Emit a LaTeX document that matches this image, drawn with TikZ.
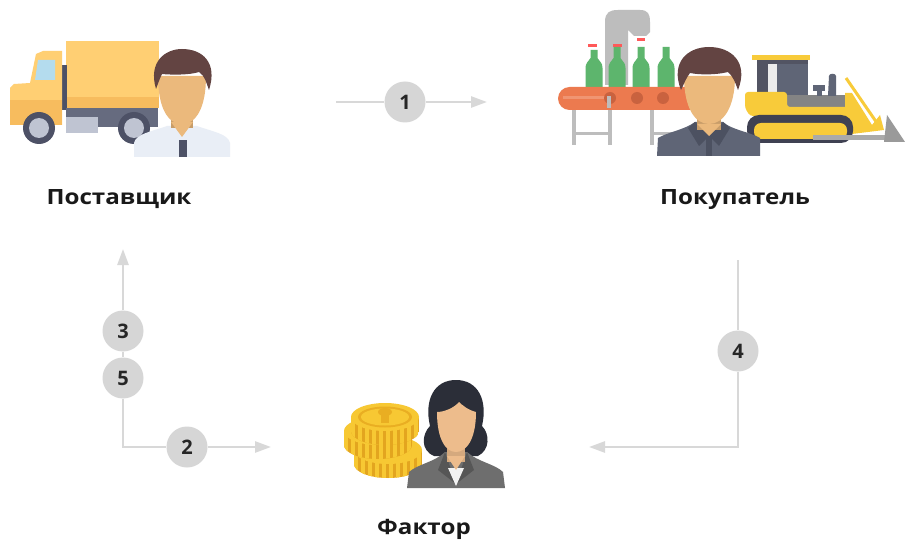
\documentclass[tikz,border=0pt]{standalone}
\usepackage{fontspec}
\setmainfont{Open Sans}
\newfontfamily\labelfont[FakeStretch=1.15]{Open Sans}
\usetikzlibrary{arrows.meta}
\definecolor{linegray}{HTML}{D8D8D8}
\definecolor{discgray}{HTML}{D6D6D6}
\definecolor{truckyel}{HTML}{FFCF73}
\definecolor{truckdk}{HTML}{F7BC5E}
\definecolor{steel}{HTML}{666B7F}
\definecolor{tyre}{HTML}{4D5166}
\definecolor{hub}{HTML}{BFC4D2}
\definecolor{windowb}{HTML}{B4DCEE}
\definecolor{hairbrown}{HTML}{634442}
\definecolor{skin}{HTML}{EBB97C}
\definecolor{skinb}{HTML}{EDBC8C}
\definecolor{shirt}{HTML}{E9EEF6}
\definecolor{jacket}{HTML}{5F6576}
\definecolor{jacketdk}{HTML}{4C5161}
\definecolor{machine}{HTML}{BDBDBD}
\definecolor{bottle}{HTML}{5DB56D}
\definecolor{belt}{HTML}{EC7A4F}
\definecolor{beltdk}{HTML}{C9623F}
\definecolor{dozer}{HTML}{F8CB3A}
\definecolor{dozerdk}{HTML}{3F4152}
\definecolor{coin}{HTML}{F7C833}
\definecolor{coindk}{HTML}{E3A51F}
\definecolor{coinlt}{HTML}{E9AE22}
\definecolor{hairblack}{HTML}{2B2E38}
\definecolor{coat}{HTML}{6E6E6E}
\definecolor{coatdk}{HTML}{565656}
\tikzset{
  disc/.style={circle,fill=discgray,minimum size=41pt,inner sep=0pt,font=\fontsize{20}{20}\selectfont\bfseries,text=black!85},
  namelabel/.style={font=\labelfont\fontsize{21}{22}\selectfont\bfseries,text=black!90,inner sep=0pt,anchor=base},
  conn/.style={draw=linegray,line width=2.6pt},
  arr/.style={conn,-{Triangle[length=16pt,width=11pt,fill=linegray]}},
}
\begin{document}
\begin{tikzpicture}[x=1pt,y=-1pt]
\useasboundingbox (0,0) rectangle (905,540);
\fill[white] (0,0) rectangle (905,540);

% ---------- truck ----------
\fill[truckyel] (66,41) rectangle (159,100);
\fill[truckdk] (66,97) rectangle (159,108);
\fill[tyre] (62,65) rectangle (67,110);
\fill[steel] (66,108) rectangle (158,127);
\fill[hub] (66,117) rectangle (98,133);
\fill[truckyel] (10,125) -- (10,88) -- (14,84) -- (30,83) -- (36,54) -- (43,51) -- (62,51) -- (62,125) -- cycle;
\fill[truckdk] (10,100) rectangle (62,125);
\fill[windowb] (38,60) -- (55,60) -- (55,80) -- (35,80) -- cycle;
\fill[tyre] (39,128) circle (16);
\fill[hub] (39,128) circle (10);
\fill[tyre] (134,128) circle (16);
\fill[hub] (134,128) circle (10);
% ---------- supplier ----------
\fill[shirt] (134,157) -- (134,143) .. controls (136,134) and (150,132) .. (167,126) -- (197,126) .. controls (214,132) and (228,134) .. (230,143) -- (230,157) -- cycle;
\fill[skin!85!black] (171,110) rectangle (193,128);
\fill[skin] (171,122) -- (182,137) -- (193,122) -- cycle;
\fill[skin] (158,76) .. controls (158,108) and (168,124) .. (182,124) .. controls (196,124) and (206,108) .. (206,76) -- cycle;
\fill[hairbrown] (156,89) .. controls (148,62) and (165,49) .. (182,49) .. controls (202,49) and (218,62) .. (209,90) .. controls (206,82) and (205,76) .. (199,72) .. controls (190,75) and (172,75) .. (162,74) .. controls (159,80) and (158,84) .. (156,89) -- cycle;
\fill[tyre] (179,140) rectangle (187,157);

% ---------- bottling line ----------
\fill[machine] (605,22) .. controls (605,12) and (610,10) .. (618,10) -- (640,10) .. controls (648,10) and (650,14) .. (650,22) -- (650,32) -- (646,36) -- (634,36) -- (628,30) -- (628,85) -- (605,85) -- cycle;
\fill[red!65!white] (588,44) rectangle (597,47);
\fill[red!65!white] (613,44) rectangle (622,47);
\fill[red!65!white] (637,38) rectangle (645,41);
\foreach \bx/\by in {594/50,617/47,641/47,666/47}{
  \fill[bottle] (\bx-3.5,\by) -- (\bx+3.5,\by) -- (\bx+3.5,58) .. controls (\bx+6,62) and (\bx+8.5,63) .. (\bx+8.5,68) -- (\bx+8.5,87) -- (\bx-8.5,87) -- (\bx-8.5,68) .. controls (\bx-8.5,63) and (\bx-6,62) .. (\bx-3.5,58) -- cycle;
}
\foreach \lx in {572,608,650}{ \fill[machine] (\lx,106) rectangle (\lx+4,145); }
\fill[machine] (572,132) rectangle (612,135);
\fill[machine] (650,132) rectangle (690,135);
\fill[belt,rounded corners=11.5pt] (558,87) rectangle (705,110);
\fill[belt!80!white] (563,96) rectangle (606,99);
\foreach \hx in {610,637,663}{ \fill[beltdk] (\hx,98) circle (6); }
\fill[machine] (607,96) rectangle (611,108);
% ---------- bulldozer ----------
\fill[dozer] (752,55) rectangle (810,60);
\fill[dozerdk!90!white] (757,60) rectangle (808,100);
\fill[white!85!gray] (768,64) rectangle (777,95);
\fill[jacket] (777,64) rectangle (808,100);
\fill[coat!85!white] (787,95) rectangle (846,108);
\fill[dozer,rounded corners=3pt] (745,92) -- (787,92) -- (787,107) -- (850,107) -- (850,116) -- (750,116) -- (745,108) -- cycle;
\fill[jacket] (813,85) rectangle (825,91);
\fill[jacket] (817,90) rectangle (822,96);
\fill[jacket] (829,76) .. controls (829,73) and (836,73) .. (836,76) -- (836,96) -- (828,96) -- cycle;
\fill[dozer] (845,93) -- (852,93) -- (872,125) -- (880,115) -- (884,130) -- (852,134) -- (845,116) -- cycle;
\draw[dozer,line width=3pt] (846,78) -- (877,123);
\fill[dozerdk,rounded corners=12pt] (747,115) rectangle (853,143);
\fill[dozer,rounded corners=7pt] (754,123) rectangle (847,139);
\fill[machine!90!black] (813,135) rectangle (890,140);
\fill[coat!70!white] (887,115) -- (905,142) -- (884,142) -- cycle;
% ---------- buyer ----------
\fill[jacket] (657,156) -- (658,138) .. controls (668,132) and (684,130) .. (695,122) -- (723,122) .. controls (732,130) and (750,132) .. (760,138) -- (760,156) -- cycle;
\fill[jacketdk] (695,122) -- (709,136) -- (699,146) -- (688,128) -- cycle;
\fill[jacketdk] (723,122) -- (709,136) -- (719,146) -- (730,128) -- cycle;
\fill[jacketdk] (706,136) rectangle (712,156);
\fill[skin!85!black] (697,112) rectangle (721,130);
\fill[skin] (697,124) -- (709,136) -- (721,124) -- cycle;
\fill[skin] (684,76) .. controls (684,108) and (695,124) .. (709,124) .. controls (723,124) and (735,108) .. (735,76) -- cycle;
\fill[hairbrown] (681,90) .. controls (670,62) and (688,47) .. (709,47) .. controls (731,47) and (749,62) .. (738,90) .. controls (735,82) and (734,78) .. (728,72) .. controls (716,75) and (700,75) .. (690,73) .. controls (686,78) and (684,84) .. (681,90) -- cycle;

% ---------- coins ----------
\foreach \cx/\cy in {388/450,378/431,385/417}{
  \begin{scope}
    \clip (\cx-34,\cy) -- (\cx-34,\cy+14) arc[start angle=180,end angle=0,x radius=34,y radius=14] -- (\cx+34,\cy) -- cycle;
    \fill[coindk] (\cx-34,\cy) rectangle (\cx+34,\cy+30);
    \foreach \t in {-32,-25,...,32}{ \fill[coin] (\cx+\t-1.6,\cy) rectangle (\cx+\t+1.6,\cy+30); }
  \end{scope}
  \fill[coin] (\cx,\cy) ellipse[x radius=34,y radius=14];
}
\fill[coinlt] (385,417) ellipse[x radius=27,y radius=10.5];
\fill[coin] (385,417) ellipse[x radius=24,y radius=8.5];
\fill[coinlt] (385,412) ellipse[x radius=7,y radius=4];
\fill[coinlt] (381,412) rectangle (389,423);
% ---------- factor person ----------
\fill[hairblack] (434,456) .. controls (420,450) and (422,434) .. (430,426) .. controls (424,400) and (434,380) .. (456,380) .. controls (478,380) and (488,400) .. (482,426) .. controls (490,434) and (490,450) .. (478,456) -- cycle;
\fill[coat] (407,488) -- (409,472) .. controls (418,464) and (435,462) .. (445,452) -- (467,452) .. controls (478,462) and (495,464) .. (503,472) -- (505,488) -- cycle;
\fill[coatdk] (445,452) -- (456,484) -- (438,470) -- cycle;
\fill[coatdk] (467,452) -- (456,484) -- (474,470) -- cycle;
\fill[white!90!gray] (448,468) -- (464,468) -- (456,486) -- cycle;
\fill[skinb!90!black] (447,440) rectangle (465,462);
\fill[skinb] (447,456) -- (456,470) -- (465,456) -- cycle;
\fill[skinb] (437,412) .. controls (437,440) and (446,452) .. (456,452) .. controls (466,452) and (476,440) .. (476,412) .. controls (468,410) and (462,405) .. (459,402) .. controls (454,408) and (444,412) .. (437,412) -- cycle;

% ---------- labels ----------
\node[namelabel] (supplier) at (119,205) {Поставщик};
\node[namelabel] (buyer) at (735,205) {Покупатель};
\node[namelabel] (factor) at (424,534) {Фактор};

% ---------- numbered discs ----------
\node[disc] (n1) at (405,102) {1};
\node[disc] (n2) at (187,447) {2};
\node[disc] (n3) at (123,331) {3};
\node[disc] (n5) at (123,378) {5};
\node[disc] (n4) at (738,351) {4};

% ---------- connectors ----------
\coordinate (a1s) at (336,102);
\coordinate (a1e) at (487,102);
\coordinate (top) at (123,249);
\coordinate (cnr) at (123,447);
\coordinate (a2e) at (271,447);
\coordinate (a4s) at (738,260);
\coordinate (a4e) at (589,447);
\draw[conn] (a1s) -- (n1);
\draw[arr] (n1) -- (a1e);
\draw[arr] (n3) -- (top);
\draw[conn] (n3) -- (n5);
\draw[conn] (n5) -- (cnr) -- (n2);
\draw[arr] (n2) -- (a2e);
\draw[conn] (a4s) -- (n4);
\draw[arr] (n4) |- (a4e);
\end{tikzpicture}
\end{document}
